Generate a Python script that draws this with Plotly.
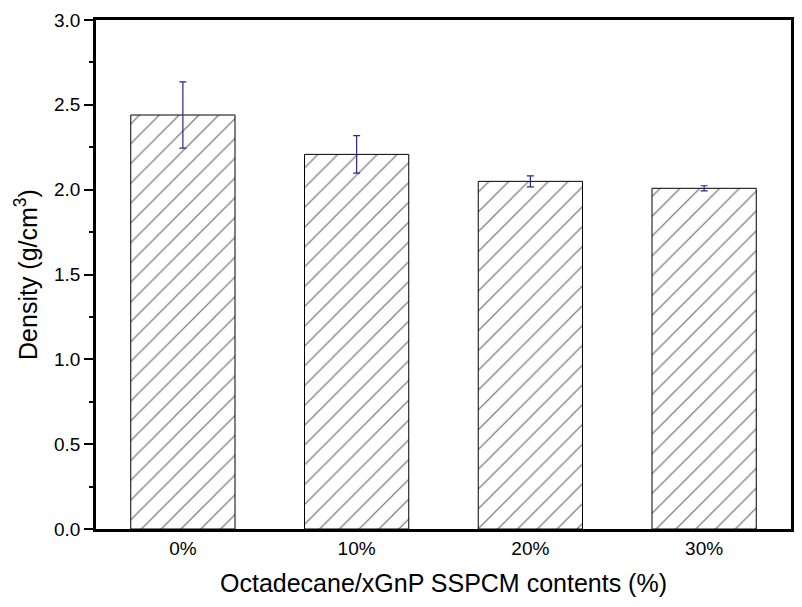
import plotly.graph_objects as go

categories = ["0%", "10%", "20%", "30%"]
density = [2.44, 2.208, 2.049, 2.008]
density_err = [0.195, 0.111, 0.032, 0.015]

y_ticks = [0.0, 0.5, 1.0, 1.5, 2.0, 2.5, 3.0]
y_ticklabels = ["0.0", "0.5", "1.0", "1.5", "2.0", "2.5", "3.0"]

font_family = "Liberation Sans, Arial, sans-serif"

fig = go.Figure()
fig.add_trace(go.Bar(
    x=categories,
    y=density,
    width=0.6,
    marker=dict(
        color="white",
        line=dict(color="black", width=1),
        pattern=dict(shape="/", size=14, solidity=0.09, fgcolor="black", bgcolor="white"),
    ),
    error_y=dict(type="data", array=density_err, visible=True,
                 color="#26268f", thickness=1.2, width=3.5),
    showlegend=False,
))

fig.update_layout(
    width=802, height=607,
    margin=dict(l=96, r=11, t=20, b=78),
    plot_bgcolor="white", paper_bgcolor="white",
    font=dict(family=font_family, color="black", size=18),
    bargap=0.4,
)
fig.update_xaxes(
    type="category",
    range=[-0.5, 3.5],
    automargin=False,
    showline=True, linecolor="black", linewidth=2.5, mirror=True,
    ticks="", showgrid=False, zeroline=False,
    tickfont=dict(size=19),
    title=dict(text="Octadecane/xGnP SSPCM contents (%)", font=dict(size=25), standoff=17),
)
fig.update_yaxes(
    range=[0, 3.0],
    automargin=False,
    tickmode="array", tickvals=y_ticks, ticktext=y_ticklabels,
    showline=True, linecolor="black", linewidth=2.5, mirror=True,
    ticks="outside", ticklen=9, tickwidth=1.5, tickcolor="black",
    minor=dict(ticks="outside", ticklen=4, tickwidth=1.5, tickcolor="black", dtick=0.25, showgrid=False),
    showgrid=False, zeroline=False,
    tickfont=dict(size=19),
    title=dict(text="Density (g/cm<sup>3</sup>)", font=dict(size=25), standoff=10),
)

fig.write_html("out.html", config={"displayModeBar": False},
               post_script="document.body.style.margin='0';")
